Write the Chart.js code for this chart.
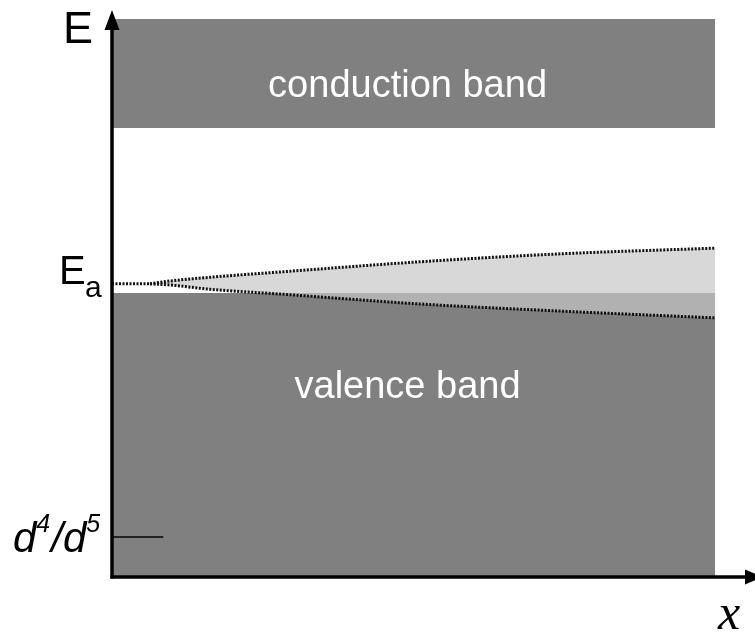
<!DOCTYPE html>
<html><head><meta charset="utf-8">
<script src="https://cdn.jsdelivr.net/npm/chart.js@4"></script>
<style>html,body{margin:0;padding:0;background:#fff}#wrap{width:755px;height:635px}</style>
</head><body><div id="wrap"><canvas id="c" width="755" height="635"></canvas></div>
<script>
// ---- data (arbitrary units: x = position, y = energy) ----
const xRange = [0, 106.6];
const yRange = [0, 100];
const bandX = [0, 100];
const conductionBand = [79.2, 98.4];   // bottom, top
const valenceBand = [0, 50.1];         // bottom, top
const acceptorLevel = 51.7;            // E_a
const acceptorLineX = [0, 6.3];
const wedgeX = [6.3, 9.6, 16.25, 27.9, 51.1, 74.3, 100];
const wedgeUpper = [51.7, 52.2, 52.86, 53.8, 55.6, 57.0, 58.0];
const wedgeLower = [51.7, 51.5, 50.74, 49.9, 48.15, 46.9, 45.7];
const d45Level = 7.05;
const d45TickEnd = 8.5;
const bandLabels = ["conduction band", "valence band"];
const bandLabelX = 49;
const bandLabelY = [84.66, 31.57];
const axisLabels = { y: "E", x: "x", acceptor: ["E", "a"], d45: ["d", "4", "/", "d", "5"] };

const zip = (xs, ys) => xs.map((v, i) => ({ x: v, y: ys[i] }));
const flat = (xs, v) => xs.map(x => ({ x, y: v }));

const dotted = { borderColor: '#111', borderWidth: 3, borderDash: [2, 1.5], pointRadius: 0, showLine: true };

const overlay = {
  id: 'overlay',
  afterDatasetsDraw(chart) {
    const { ctx, scales: { x, y } } = chart;
    const ax = x.getPixelForValue(0), ay = y.getPixelForValue(0);
    const top = y.getPixelForValue(yRange[1]), right = x.getPixelForValue(xRange[1]);
    ctx.save();
    // band labels
    ctx.fillStyle = '#fff';
    ctx.font = '38px "Liberation Sans", Arial, sans-serif';
    ctx.textAlign = 'center'; ctx.textBaseline = 'alphabetic';
    bandLabels.forEach((t, i) => ctx.fillText(t, x.getPixelForValue(bandLabelX), y.getPixelForValue(bandLabelY[i])));
    // d4/d5 tick
    ctx.strokeStyle = '#222'; ctx.lineWidth = 2;
    const dy = y.getPixelForValue(d45Level);
    ctx.beginPath(); ctx.moveTo(ax, dy); ctx.lineTo(x.getPixelForValue(d45TickEnd), dy); ctx.stroke();
    // axes
    ctx.strokeStyle = '#000'; ctx.fillStyle = '#000'; ctx.lineWidth = 3.5;
    ctx.beginPath(); ctx.moveTo(ax, ay + 1.5); ctx.lineTo(ax, top + 12); ctx.stroke();
    ctx.beginPath(); ctx.moveTo(ax - 1.5, ay); ctx.lineTo(right - 8, ay); ctx.stroke();
    ctx.beginPath(); ctx.moveTo(ax, top); ctx.lineTo(ax - 7.5, top + 20); ctx.lineTo(ax + 7.5, top + 20); ctx.closePath(); ctx.fill();
    ctx.beginPath(); ctx.moveTo(right + 8, ay); ctx.lineTo(right - 10, ay - 7.5); ctx.lineTo(right - 10, ay + 7.5); ctx.closePath(); ctx.fill();
    // E label
    ctx.textAlign = 'left';
    ctx.font = '45px "Liberation Sans", Arial, sans-serif';
    ctx.fillText(axisLabels.y, ax - 49, top + 33);
    // E_a label
    const ey = y.getPixelForValue(acceptorLevel);
    ctx.font = '40px "Liberation Sans", Arial, sans-serif';
    ctx.fillText(axisLabels.acceptor[0], ax - 53, ey);
    ctx.font = '30px "Liberation Sans", Arial, sans-serif';
    ctx.fillText(axisLabels.acceptor[1], ax - 27, ey + 13);
    // d4/d5 label
    let cx = 13; const by = dy + 15;
    const parts = axisLabels.d45;
    parts.forEach((p, i) => {
      const sup = (i === 1 || i === 4);
      ctx.font = sup ? 'italic 25px "Liberation Sans", Arial, sans-serif' : 'italic 42px "Liberation Sans", Arial, sans-serif';
      ctx.fillText(p, cx, sup ? by - 20 : by);
      cx += ctx.measureText(p).width + (sup ? 1 : 0);
    });
    // x label
    ctx.font = 'italic 50px "Liberation Serif", "Times New Roman", serif';
    ctx.fillText(axisLabels.x, 718, ay + 52);
    ctx.restore();
  }
};

new Chart(document.getElementById('c'), {
  type: 'scatter',
  data: {
    datasets: [
      Object.assign({ data: zip(wedgeX, wedgeUpper), fill: 1, backgroundColor: 'rgba(198,198,198,0.69)', tension: 0.4, cubicInterpolationMode: 'monotone', order: 1 }, dotted),
      Object.assign({ data: zip(wedgeX, wedgeLower), fill: false, tension: 0.4, cubicInterpolationMode: 'monotone', order: 1 }, dotted),
      Object.assign({ data: flat(acceptorLineX, acceptorLevel), fill: false, order: 1 }, dotted),
      { data: flat(bandX, conductionBand[1]), fill: { value: conductionBand[0] }, backgroundColor: '#808080', borderWidth: 0, pointRadius: 0, showLine: true, order: 5 },
      { data: flat(bandX, valenceBand[1]), fill: { value: valenceBand[0] }, backgroundColor: '#808080', borderWidth: 0, pointRadius: 0, showLine: true, order: 5 }
    ]
  },
  options: {
    responsive: false, animation: false, devicePixelRatio: 1,
    layout: { padding: { left: 112, right: 0, top: 10, bottom: 58 } },
    plugins: { legend: { display: false }, tooltip: { enabled: false }, filler: { drawTime: 'beforeDatasetsDraw' } },
    scales: {
      x: { type: 'linear', min: xRange[0], max: xRange[1], display: false },
      y: { type: 'linear', min: yRange[0], max: yRange[1], display: false }
    }
  },
  plugins: [overlay]
});
</script></body></html>
